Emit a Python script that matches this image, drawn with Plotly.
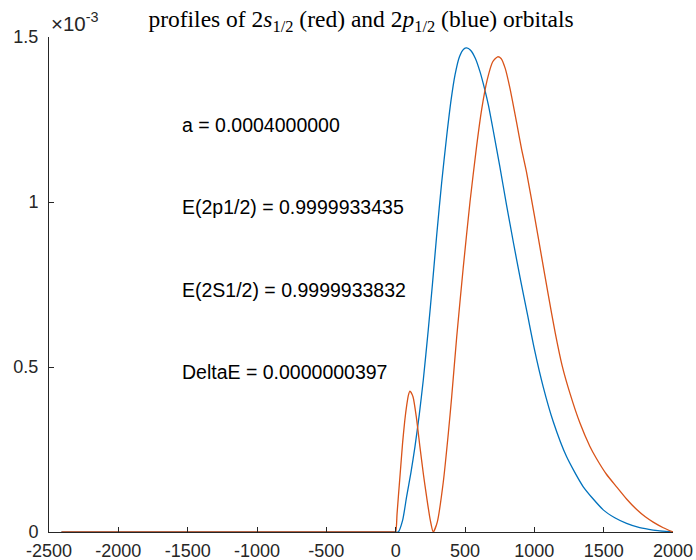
import plotly.graph_objects as go

# ---- data (y values in units of 1e-3) ----
x_2p = [-2410, -10, 0, 19, 50, 79, 110, 139, 170, 199, 235, 265, 296, 332, 368, 400, 428, 460,
        490, 512, 540, 575, 608, 640, 668, 700, 750, 800, 850, 900, 950, 1000, 1064, 1136,
        1233, 1353, 1497, 1580, 1665, 1760, 1857, 2000]
y_2p = [0, 0, 0, 0, 0.035, 0.107, 0.18, 0.258, 0.355, 0.46, 0.612, 0.75, 0.9, 1.06, 1.2,
        1.31, 1.385, 1.44, 1.463, 1.467, 1.46, 1.435, 1.395, 1.345, 1.295, 1.225, 1.11, 0.99,
        0.875, 0.765, 0.66, 0.555, 0.44, 0.335, 0.228, 0.137, 0.067, 0.043, 0.026, 0.013,
        0.006, 0]

x_2s = [-2410, -10, 0, 10, 20, 35, 50, 65, 80, 92, 103, 125, 150, 175, 200, 223, 250, 271,
        300, 343, 380, 404, 440, 487, 536, 584, 620, 660, 700, 735, 760, 790, 824, 872, 908,
        944, 1000, 1050, 1100, 1150, 1200, 1257, 1329, 1400, 1449, 1520, 1593, 1665, 1738,
        1800, 1857, 1930, 2000]
y_2s = [0, 0, 0, 0.055, 0.11, 0.19, 0.27, 0.335, 0.385, 0.415, 0.427, 0.41, 0.345, 0.258,
        0.175, 0.107, 0.035, 0, 0.03, 0.15, 0.3, 0.41, 0.59, 0.8, 1.0, 1.17, 1.28, 1.37,
        1.425, 1.44, 1.435, 1.405, 1.345, 1.241, 1.16, 1.09, 0.96, 0.84, 0.72, 0.605, 0.505,
        0.42, 0.33, 0.26, 0.222, 0.175, 0.137, 0.1, 0.068, 0.046, 0.03, 0.013, 0]

Y_SCALE = 1e-3
x_ticks = [-2500, -2000, -1500, -1000, -500, 0, 500, 1000, 1500, 2000]
x_tick_text = ["-2500", "-2000", "-1500", "-1000", "-500", "0", "500", "1000", "1500", "2000"]
y_ticks = [0, 0.5, 1, 1.5]
y_tick_text = ["0", "0.5", "1", "1.5"]

labels = ["a = 0.0004000000", "E(2p1/2) = 0.9999933435",
          "E(2S1/2) = 0.9999933832", "DeltaE = 0.0000000397"]
label_y = [1.233, 0.985, 0.733, 0.485]

AX = "#262626"
FONT = "Liberation Sans, Arial, sans-serif"

fig = go.Figure()
fig.add_trace(go.Scatter(x=x_2p, y=[v * Y_SCALE for v in y_2p], mode="lines",
                         line=dict(color="#0072BD", width=1.3, shape="spline", smoothing=0.6),
                         showlegend=False))
fig.add_trace(go.Scatter(x=x_2s, y=[v * Y_SCALE for v in y_2s], mode="lines",
                         line=dict(color="#D95319", width=1.3, shape="spline", smoothing=0.6),
                         showlegend=False))

for t, yy in zip(labels, label_y):
    fig.add_annotation(x=-1555, y=yy * Y_SCALE, xref="x", yref="y", text=t, showarrow=False,
                       xanchor="left", yanchor="middle",
                       font=dict(family=FONT, size=19.5, color="#000000"))

fig.add_annotation(x=(75 - 49) / 624, y=(532 - 22) / 495, xref="paper", yref="paper",
                   text="×10<sup>-3</sup>", showarrow=False, xanchor="center", yanchor="middle",
                   font=dict(family=FONT, size=20.5, color=AX))

fig.update_layout(
    width=696, height=560, autosize=False,
    margin=dict(l=49, r=23, t=37, b=28, pad=0, autoexpand=False),
    paper_bgcolor="white", plot_bgcolor="white",
    title=dict(text="profiles of 2<i>s</i><sub>1/2</sub> (red) and 2<i>p</i><sub>1/2</sub> (blue) orbitals",
               x=0.5, xref="paper", y=1 - 19 / 560, yanchor="middle", xanchor="center",
               font=dict(family="Liberation Serif, Times New Roman, serif", size=23.5, color="#000000")),
    xaxis=dict(range=[-2500, 2000], tickvals=x_ticks, ticktext=x_tick_text, ticks="inside",
               ticklen=5, tickcolor=AX, showline=True, linecolor=AX, linewidth=1,
               showgrid=False, zeroline=False, mirror=False, automargin=False,
               ticklabelstandoff=2, tickfont=dict(family=FONT, size=18, color=AX)),
    yaxis=dict(range=[0, 1.5 * Y_SCALE], tickvals=[v * Y_SCALE for v in y_ticks],
               ticktext=y_tick_text, ticks="inside", ticklen=5, tickcolor=AX,
               showline=True, linecolor=AX, linewidth=1, showgrid=False, zeroline=False,
               mirror=False, automargin=False, ticklabelstandoff=6,
               tickfont=dict(family=FONT, size=18, color=AX)),
)

fig.write_html("out.html", config={"displayModeBar": False},
               post_script="document.body.style.margin='0px';")
